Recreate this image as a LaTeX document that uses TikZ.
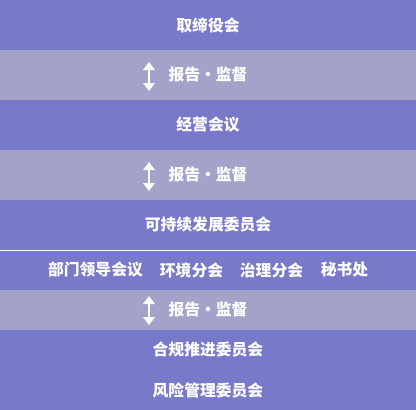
\documentclass[tikz,border=0pt]{standalone}
\usepackage{fontspec}
\newfontfamily\cjk{Noto Sans CJK SC}
\usetikzlibrary{arrows.meta}
\definecolor{bandblue}{RGB}{120,121,201}
\definecolor{bandgrey}{RGB}{163,163,201}
\tikzset{
  bandtext/.style={text=white,inner sep=0pt,font=\cjk\bfseries\fontsize{15.8}{18}\selectfont},
  updown/.style={white,line width=2.8pt,{Triangle[width=11.5pt,length=8pt]}-{Triangle[width=11.5pt,length=8pt]}}
}
\begin{document}
\begin{tikzpicture}[x=1pt,y=-1pt]
  \useasboundingbox (0,0) rectangle (416,410);
  % bands
  \fill[bandblue] (0,0) rectangle (416,410);
  \fill[bandgrey] (0,50) rectangle (416,100);
  \fill[bandgrey] (0,150) rectangle (416,200);
  \fill[bandgrey] (0,290) rectangle (416,330);
  \draw[white,line width=1pt] (0,250) -- (416,250);
  % bodies
  \node[bandtext] (board) at (208,25) {取缔役会};
  \node[bandtext] (mgmt) at (208,125) {经营会议};
  \node[bandtext] (sust) at (208,225) {可持续发展委员会};
  \node[bandtext] (dept) at (95.5,270) {部门领导会议};
  \node[bandtext] (env) at (191.5,270) {环境分会};
  \node[bandtext] (gov) at (271.5,270) {治理分会};
  \node[bandtext] (secr) at (344.5,270) {秘书处};
  \node[bandtext] (comp) at (208,350) {合规推进委员会};
  \node[bandtext] (risk) at (208,390) {风险管理委员会};
  % reporting links
  \node[bandtext] (rep1) at (208,75) {报告・监督};
  \node[bandtext] (rep2) at (208,175) {报告・监督};
  \node[bandtext] (rep3) at (208,310) {报告・监督};
  \coordinate (top1) at (149,62);
  \coordinate (bot1) at (149,91);
  \coordinate (top2) at (149,162);
  \coordinate (bot2) at (149,191);
  \coordinate (top3) at (149,296);
  \coordinate (bot3) at (149,325);
  \draw[updown] (top1) -- (bot1);
  \draw[updown] (top2) -- (bot2);
  \draw[updown] (top3) -- (bot3);
\end{tikzpicture}
\end{document}
